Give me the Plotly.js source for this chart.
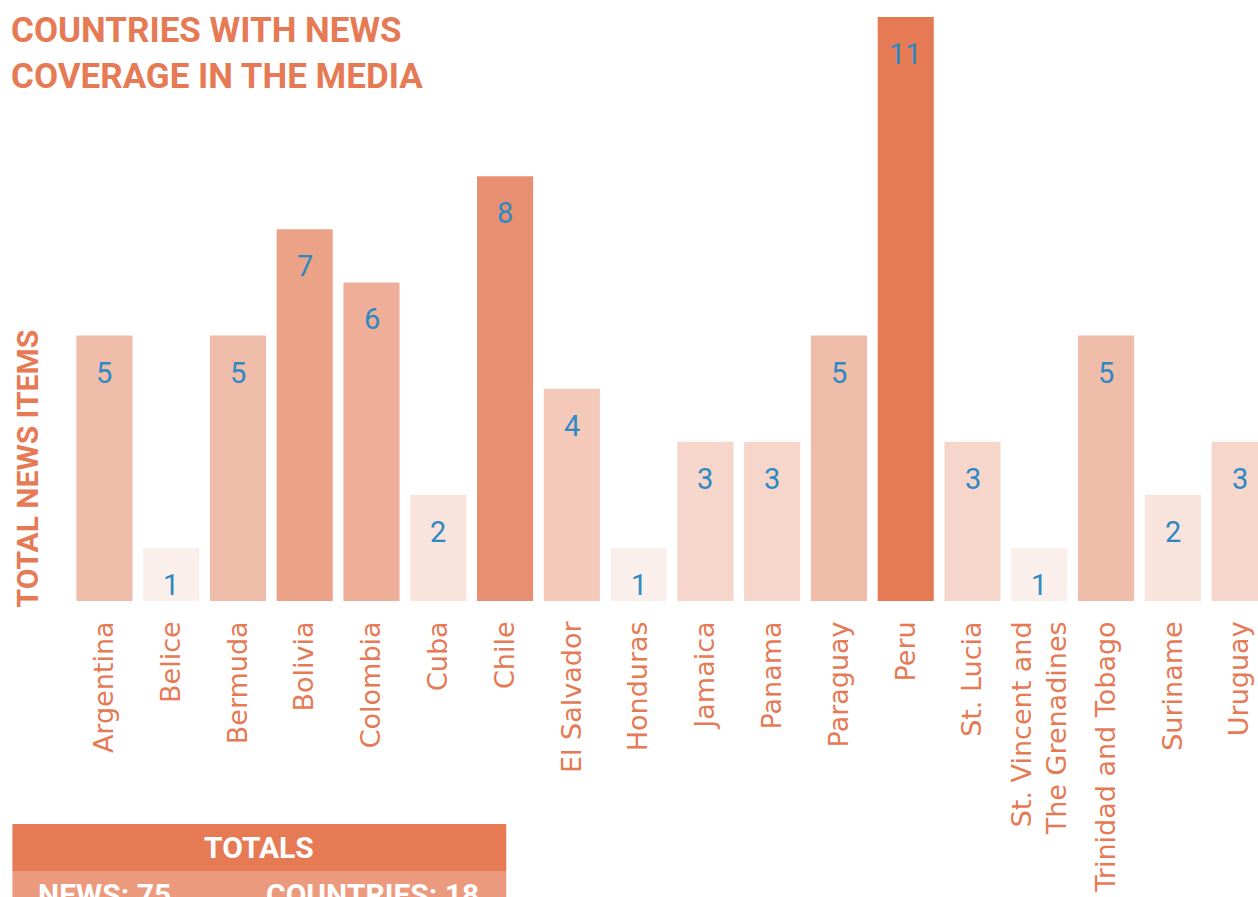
<!DOCTYPE html>
<html>
<head>
<meta charset="utf-8">
<script src="https://cdn.plot.ly/plotly-3.0.1.min.js"></script>
<style>
  html, body { margin: 0; padding: 0; background: #ffffff; overflow: hidden; }
  #chart { width: 1258px; height: 897px; }
</style>
</head>
<body>
<div id="chart"></div>
<script>
// ---- data ----
const countries = ["Argentina", "Belice", "Bermuda", "Bolivia", "Colombia", "Cuba", "Chile",
  "El Salvador", "Honduras", "Jamaica", "Panama", "Paraguay", "Peru", "St. Lucia",
  "St. Vincent and<br>The Grenadines", "Trinidad and Tobago", "Suriname", "Uruguay"];
const newsItems = [5, 1, 5, 7, 6, 2, 8, 4, 1, 3, 3, 5, 11, 3, 1, 5, 2, 3];
const totalsTitle = "TOTALS";
const totalNews = 75;
const totalCountries = 18;

// ---- styling ----
const shadeByValue = {
  1: "#fbefec", 2: "#f9e3dd", 3: "#f6d6cb", 4: "#f4c9b9", 5: "#f0bcaa",
  6: "#efae97", 7: "#eca286", 8: "#e88f71", 11: "#e57a55"
};
const orange = "#e57a55";
const blue = "#2e89c2";

// Layout geometry (pixels)
const W = 1258, H = 897;
const L = 70.6, T = 17, B = 296;
const plotW = W - L, plotH = H - T - B;
const px = X => (X - L) / plotW;          // pixel x -> paper x
const py = Y => (H - B - Y) / plotH;      // pixel y -> paper y

const trace = {
  type: "bar",
  x: countries,
  y: newsItems,
  marker: { color: newsItems.map(v => shadeByValue[v]), line: { width: 0 } },
  hoverinfo: "skip",
  cliponaxis: false
};

const valueLabels = countries.map((c, i) => ({
  x: c, y: newsItems[i], xref: "x", yref: "y",
  text: String(newsItems[i]), showarrow: false,
  yanchor: "middle", xanchor: "center", yshift: -37,
  font: { family: "Roboto, sans-serif", size: 29, color: blue }
}));

const layout = {
  width: W, height: H,
  margin: { l: L, r: 0, t: T, b: B, pad: 0 },
  paper_bgcolor: "#ffffff",
  plot_bgcolor: "#ffffff",
  showlegend: false,
  bargap: 0.16,
  xaxis: {
    type: "category",
    range: [-0.5, 17.275],
    tickangle: -90,
    showgrid: false, zeroline: false, showline: false,
    ticks: "", ticklabelstandoff: 14,
    tickfont: { family: "DejaVu Sans, sans-serif", size: 27, color: orange },
    fixedrange: true
  },
  yaxis: {
    range: [0, 11],
    showgrid: false, zeroline: false, showline: false,
    showticklabels: false, ticks: "",
    fixedrange: true
  },
  shapes: [
    { type: "rect", xref: "paper", yref: "paper",
      x0: px(12), x1: px(506), y0: py(824), y1: py(871),
      fillcolor: orange, line: { width: 0 }, layer: "above" },
    { type: "rect", xref: "paper", yref: "paper",
      x0: px(12), x1: px(506), y0: py(871), y1: py(905),
      fillcolor: "#ec9a7e", line: { width: 0 }, layer: "above" }
  ],
  annotations: valueLabels.concat([
    { xref: "paper", yref: "paper", x: px(9), y: py(8), xanchor: "left", yanchor: "top",
      align: "left", showarrow: false,
      text: "COUNTRIES WITH NEWS<br>COVERAGE IN THE MEDIA",
      font: { family: "Roboto, sans-serif", size: 35, color: orange, weight: 700 } },
    { xref: "paper", yref: "paper", x: px(27), y: py(468), xanchor: "center", yanchor: "middle",
      textangle: -90, showarrow: false, text: "TOTAL NEWS ITEMS",
      font: { family: "Roboto, sans-serif", size: 30, color: orange, weight: 700 } },
    { xref: "paper", yref: "paper", x: px(259), y: py(847), xanchor: "center", yanchor: "middle",
      showarrow: false, text: totalsTitle,
      font: { family: "Roboto, sans-serif", size: 30, color: "#ffffff", weight: 700 } },
    { xref: "paper", yref: "paper", x: px(36), y: py(894), xanchor: "left", yanchor: "middle",
      showarrow: false, text: "NEWS: " + totalNews,
      font: { family: "Roboto, sans-serif", size: 30, color: "#ffffff", weight: 700 } },
    { xref: "paper", yref: "paper", x: px(264), y: py(894), xanchor: "left", yanchor: "middle",
      showarrow: false, text: "COUNTRIES: " + totalCountries,
      font: { family: "Roboto, sans-serif", size: 30, color: "#ffffff", weight: 700 } }
  ])
};

Plotly.newPlot("chart", [trace], layout, { staticPlot: true, displayModeBar: false });
</script>
</body>
</html>
